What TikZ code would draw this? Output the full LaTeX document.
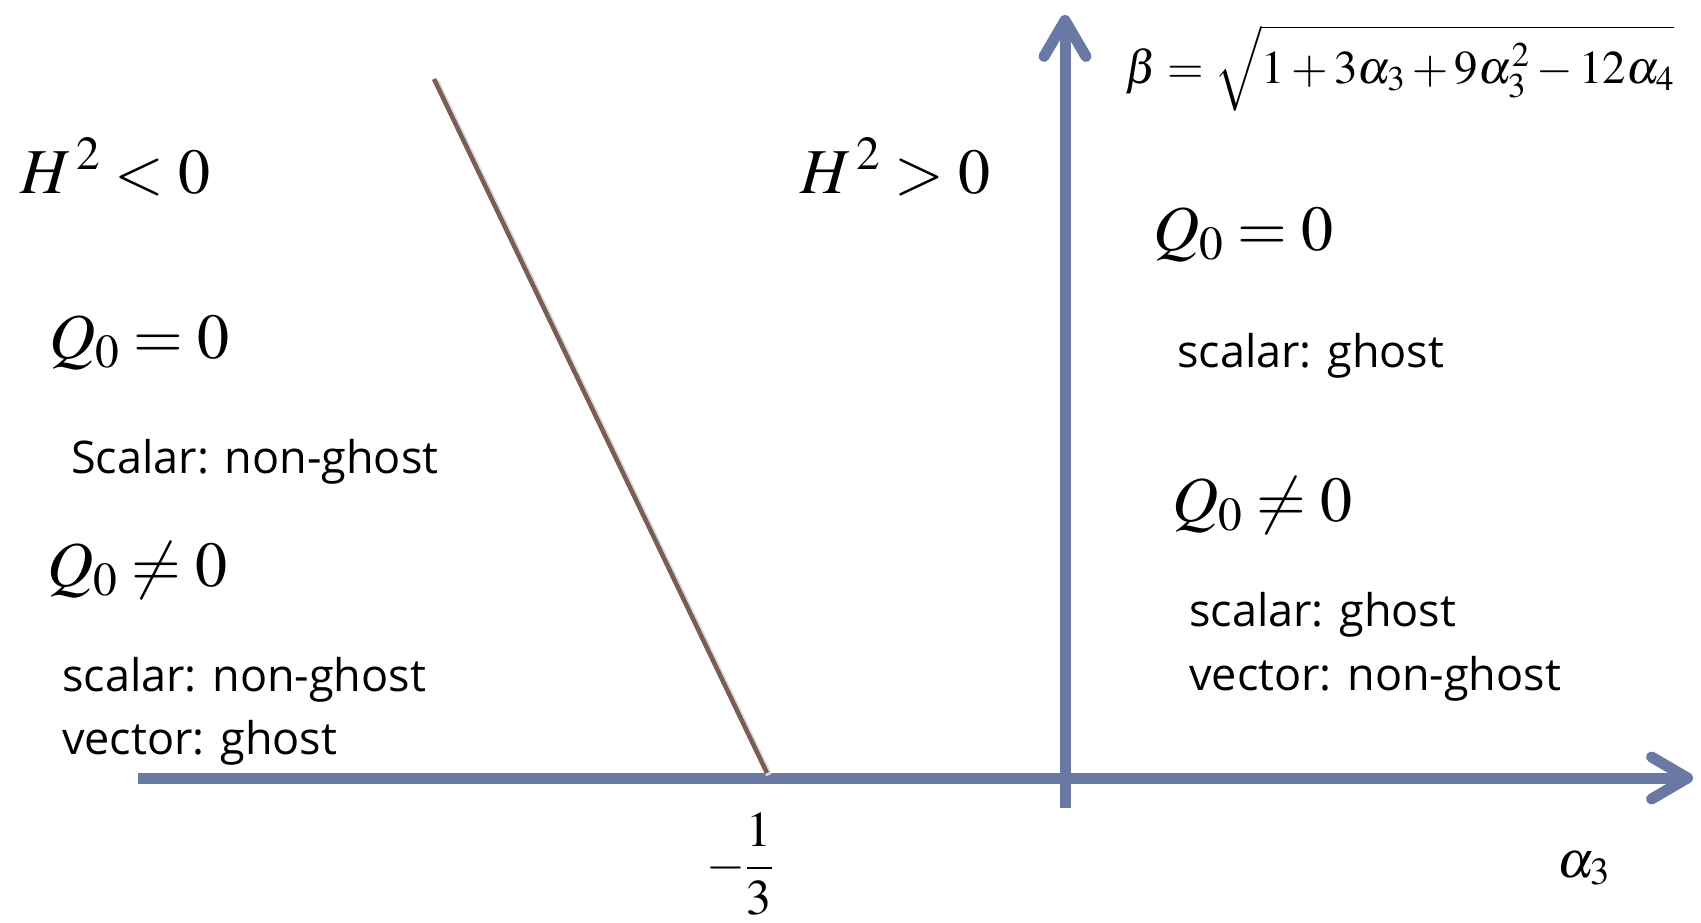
\documentclass[tikz,border=0pt]{standalone}
\usepackage{mathptmx}
\usepackage[no-math]{fontspec}
\newfontfamily\labelfont{Open Sans}
\usetikzlibrary{arrows.meta,calc}
\definecolor{axisblue}{RGB}{106,121,163}
\definecolor{linebrown}{RGB}{122,94,84}

\begin{document}
\begin{tikzpicture}[x=1pt,y=-1pt,
  axisline/.style={draw=axisblue, line width=11pt,
    -{Straight Barb[round,length=36pt,width=42pt]}},
  mathlbl/.style={inner sep=0pt, anchor=base west, font=\fontsize{64}{72}\selectfont},
  txtlbl/.style={inner sep=0pt, anchor=base west, font=\labelfont\fontsize{45}{54}\selectfont}]
 \useasboundingbox (0,0) rectangle (1701,922);
 \coordinate (xstart) at (138,778);
 \coordinate (xend) at (1693,778);
 \coordinate (ystart) at (1065,808);
 \coordinate (yend) at (1065,15);
 \coordinate (ltop) at (434,79);
 \coordinate (lbot) at (767,773);
  \draw[axisline] (xstart) -- (xend);
  \draw[axisline] (ystart) -- (yend);
  \draw[black!15, line width=6pt] ($(ltop)+(2,2)$) -- ($(lbot)+(2,2)$);
  \draw[linebrown, line width=4.5pt] (ltop) -- (lbot);
 \node[inner sep=0pt, font=\fontsize{50}{60}\selectfont] (third) at (740,864) {$\displaystyle-\frac{1}{3}$};
 \node[mathlbl, font=\fontsize{52}{60}\selectfont] (alpha) at (1557,877) {$\alpha_3$};
 \node[mathlbl, font=\fontsize{47}{56}\selectfont] (beta) at (1125,83)
   {$\beta=\sqrt{1+3\alpha_3+9\alpha_3^2-12\alpha_4}$};
 \node[mathlbl] (hneg) at (20,193) {$H^{\,2}<0$};
 \node[mathlbl] (hpos) at (800,193) {$H^{\,2}>0$};
 \node[mathlbl] (qzl) at (49,358) {$Q_0=0$};
 \node[txtlbl] (sl) at (71,473) {Scalar: non-ghost};
 \node[mathlbl] (qnl) at (47,586) {$Q_0\neq0$};
 \node[txtlbl] (snl) at (62,691) {scalar: non-ghost};
 \node[txtlbl] (vgl) at (62,754) {vector: ghost};
 \node[mathlbl] (qzr) at (1153,250) {$Q_0=0$};
 \node[txtlbl] (sr) at (1177,367) {scalar: ghost};
 \node[mathlbl] (qnr) at (1172,521) {$Q_0\neq0$};
 \node[txtlbl] (sgr) at (1189,626) {scalar: ghost};
 \node[txtlbl] (vnr) at (1189,690) {vector: non-ghost};
\end{tikzpicture}
\end{document}
